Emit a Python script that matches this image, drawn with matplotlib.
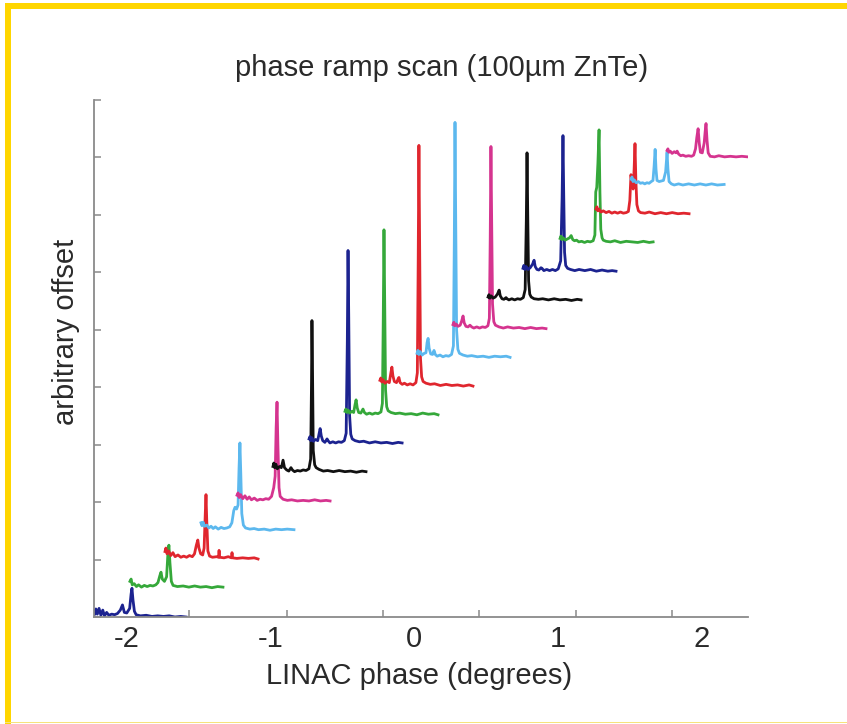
import numpy as np
import matplotlib
matplotlib.use("Agg")
import matplotlib.pyplot as plt
from matplotlib.patches import Rectangle

plt.rcParams['font.family'] = ['Liberation Sans', 'DejaVu Sans']

# ---------------- data ----------------
title = "phase ramp scan (100\u00b5m ZnTe)"
xlabel = "LINAC phase (degrees)"
ylabel = "arbitrary offset"

xtick_values = [-2, -1, 0, 1, 2]
xtick_labels = ["-2", "-1", "0", "1", "2"]
xtick_marks = [-1.565, -0.883, -0.216, 0.452, 1.127, 1.795]
ytick_marks = [0, 1, 2, 3, 4, 5, 6, 7, 8, 9]

trace_colors = ["#1c2390", "#35a83a", "#e0262e", "#5cb8ee", "#d5348f", "#111111",
                "#1c2390", "#35a83a", "#e0262e", "#5cb8ee", "#d5348f", "#111111",
                "#1c2390", "#35a83a", "#e0262e", "#5cb8ee", "#d5348f"]
trace_start = [-2.233, -1.976, -1.732, -1.482, -1.231, -0.981, -0.730, -0.480, -0.237,
               0.021, 0.271, 0.515, 0.758, 1.016, 1.266, 1.510, 1.760]
trace_offset = [0.0, 0.5, 1.0, 1.5, 2.0, 2.5, 3.0, 3.5, 4.0,
                4.5, 5.0, 5.5, 6.0, 6.5, 7.0, 7.5, 8.0]

trace_dx = [
    # 1 navy
    [0.000, 0.010, 0.020, 0.030, 0.042, 0.055, 0.068, 0.080, 0.095, 0.110, 0.130, 0.150, 0.170,
     0.190, 0.205, 0.218, 0.235, 0.255, 0.265, 0.271, 0.278, 0.288, 0.30, 0.33, 0.37, 0.41, 0.45,
     0.49, 0.53, 0.57, 0.61, 0.647],
    # 2 green
    [0.000, 0.008, 0.016, 0.030, 0.045, 0.060, 0.080, 0.100, 0.120, 0.140, 0.160, 0.180, 0.195,
     0.208, 0.216, 0.225, 0.240, 0.255, 0.264, 0.271, 0.278, 0.288, 0.30, 0.33, 0.37, 0.41, 0.45,
     0.49, 0.53, 0.57, 0.61, 0.647],
    # 3 red
    [0.000, 0.006, 0.014, 0.025, 0.040, 0.055, 0.070, 0.090, 0.110, 0.130, 0.150, 0.170, 0.190,
     0.205, 0.218, 0.228, 0.236, 0.248, 0.262, 0.272, 0.280, 0.285, 0.290, 0.298, 0.31, 0.33,
     0.36, 0.372, 0.376, 0.380, 0.41, 0.44, 0.462, 0.466, 0.47, 0.50, 0.54, 0.58, 0.62, 0.647],
    # 4 light blue
    [0.000, 0.007, 0.015, 0.025, 0.040, 0.055, 0.070, 0.085, 0.100, 0.120, 0.140, 0.160, 0.180,
     0.200, 0.215, 0.228, 0.237, 0.248, 0.258, 0.265, 0.271, 0.277, 0.284, 0.295, 0.31, 0.34,
     0.37, 0.40, 0.44, 0.48, 0.52, 0.56, 0.60, 0.647],
    # 5 magenta
    [0.000, 0.007, 0.015, 0.025, 0.040, 0.055, 0.070, 0.085, 0.100, 0.120, 0.140, 0.160, 0.180,
     0.200, 0.220, 0.240, 0.255, 0.265, 0.272, 0.278, 0.284, 0.292, 0.300, 0.32, 0.35, 0.38,
     0.42, 0.46, 0.50, 0.54, 0.58, 0.62, 0.647],
    # 6 black
    [0.000, 0.006, 0.012, 0.020, 0.030, 0.045, 0.058, 0.070, 0.080, 0.095, 0.110, 0.125, 0.135,
     0.150, 0.170, 0.190, 0.210, 0.230, 0.250, 0.262, 0.268, 0.271, 0.275, 0.280, 0.290, 0.300,
     0.32, 0.35, 0.38, 0.42, 0.46, 0.50, 0.54, 0.58, 0.62, 0.647],
    # 7 navy
    [0.000, 0.006, 0.012, 0.020, 0.030, 0.045, 0.060, 0.072, 0.077, 0.085, 0.095, 0.110, 0.125,
     0.132, 0.145, 0.165, 0.185, 0.205, 0.225, 0.245, 0.258, 0.266, 0.271, 0.276, 0.282, 0.290,
     0.300, 0.32, 0.35, 0.38, 0.42, 0.46, 0.50, 0.54, 0.58, 0.62, 0.647],
    # 8 green
    [0.000, 0.006, 0.013, 0.022, 0.033, 0.047, 0.060, 0.070, 0.077, 0.085, 0.095, 0.110, 0.125,
     0.135, 0.150, 0.170, 0.190, 0.210, 0.230, 0.250, 0.260, 0.266, 0.271, 0.276, 0.282, 0.290,
     0.300, 0.32, 0.35, 0.38, 0.42, 0.46, 0.50, 0.54, 0.58, 0.62, 0.647],
    # 9 red
    [0.000, 0.006, 0.013, 0.022, 0.035, 0.050, 0.065, 0.076, 0.083, 0.090, 0.100, 0.115, 0.127,
     0.132, 0.140, 0.155, 0.170, 0.190, 0.210, 0.230, 0.250, 0.260, 0.266, 0.271, 0.276, 0.282,
     0.290, 0.300, 0.32, 0.35, 0.38, 0.42, 0.46, 0.50, 0.54, 0.58, 0.62, 0.647],
    # 10 light blue
    [0.000, 0.006, 0.013, 0.022, 0.035, 0.050, 0.062, 0.070, 0.077, 0.084, 0.095, 0.108, 0.118,
     0.127, 0.140, 0.160, 0.180, 0.200, 0.220, 0.240, 0.253, 0.259, 0.264, 0.269, 0.275, 0.284,
     0.295, 0.32, 0.35, 0.38, 0.42, 0.46, 0.50, 0.54, 0.58, 0.62, 0.647],
    # 11 magenta
    [0.000, 0.006, 0.013, 0.022, 0.035, 0.050, 0.060, 0.070, 0.078, 0.090, 0.105, 0.118, 0.130,
     0.145, 0.165, 0.185, 0.205, 0.225, 0.243, 0.253, 0.259, 0.264, 0.269, 0.275, 0.284, 0.295,
     0.32, 0.35, 0.38, 0.42, 0.46, 0.50, 0.54, 0.58, 0.62, 0.647],
    # 12 black
    [0.000, 0.006, 0.013, 0.022, 0.035, 0.050, 0.065, 0.077, 0.085, 0.097, 0.110, 0.125, 0.132,
     0.145, 0.165, 0.185, 0.205, 0.225, 0.245, 0.258, 0.266, 0.271, 0.276, 0.282, 0.290, 0.300,
     0.32, 0.35, 0.38, 0.42, 0.46, 0.50, 0.54, 0.58, 0.62, 0.647],
    # 13 navy
    [0.000, 0.006, 0.013, 0.022, 0.035, 0.050, 0.066, 0.077, 0.085, 0.097, 0.110, 0.125, 0.132,
     0.145, 0.165, 0.185, 0.205, 0.225, 0.245, 0.262, 0.272, 0.278, 0.283, 0.289, 0.297, 0.31,
     0.33, 0.36, 0.39, 0.43, 0.47, 0.51, 0.55, 0.59, 0.62, 0.647],
    # 14 green
    [0.000, 0.006, 0.013, 0.022, 0.035, 0.050, 0.065, 0.077, 0.088, 0.100, 0.115, 0.130, 0.150,
     0.170, 0.190, 0.210, 0.230, 0.242, 0.248, 0.255, 0.263, 0.271, 0.277, 0.283, 0.292, 0.300,
     0.32, 0.35, 0.38, 0.42, 0.46, 0.50, 0.54, 0.58, 0.62, 0.647],
    # 15 red
    [0.000, 0.006, 0.013, 0.022, 0.035, 0.050, 0.070, 0.090, 0.110, 0.130, 0.150, 0.170, 0.190,
     0.210, 0.225, 0.235, 0.243, 0.250, 0.258, 0.265, 0.271, 0.277, 0.284, 0.295, 0.31, 0.34,
     0.37, 0.41, 0.45, 0.49, 0.53, 0.57, 0.61, 0.647],
    # 16 light blue
    [0.000, 0.006, 0.013, 0.022, 0.035, 0.050, 0.065, 0.080, 0.095, 0.110, 0.125, 0.140, 0.152,
     0.160, 0.167, 0.173, 0.180, 0.195, 0.210, 0.225, 0.240, 0.246, 0.250, 0.256, 0.264, 0.280,
     0.30, 0.33, 0.36, 0.40, 0.44, 0.48, 0.52, 0.56, 0.60, 0.647],
    # 17 magenta
    [0.000, 0.006, 0.013, 0.022, 0.035, 0.050, 0.062, 0.070, 0.080, 0.095, 0.110, 0.130, 0.150,
     0.170, 0.185, 0.198, 0.207, 0.216, 0.224, 0.232, 0.245, 0.258, 0.265, 0.271, 0.278, 0.286,
     0.30, 0.33, 0.36, 0.40, 0.44, 0.48, 0.52, 0.56, 0.60, 0.647],
]

trace_h = [
    # 1 navy
    [0.10, 0.04, 0.14, 0.05, 0.15, 0.03, 0.12, 0.02, 0.08, 0.03, 0.05, 0.04, 0.06,
     0.12, 0.21, 0.08, 0.07, 0.15, 0.40, 0.50, 0.30, 0.10, 0.04, 0.02, 0.03, 0.01, 0.02,
     0.01, 0.02, 0.00, 0.01, 0.00],
    # 2 green
    [0.12, 0.16, 0.06, 0.08, 0.03, 0.06, 0.02, 0.05, 0.03, 0.05, 0.04, 0.06, 0.10,
     0.22, 0.28, 0.16, 0.12, 0.20, 0.60, 0.75, 0.45, 0.12, 0.05, 0.03, 0.04, 0.02, 0.04,
     0.02, 0.03, 0.01, 0.03, 0.02],
    # 3 red
    [0.14, 0.20, 0.10, 0.15, 0.07, 0.12, 0.05, 0.08, 0.04, 0.06, 0.04, 0.07, 0.05,
     0.10, 0.25, 0.34, 0.20, 0.10, 0.08, 0.20, 0.80, 1.13, 0.70, 0.15, 0.06, 0.04,
     0.05, 0.04, 0.16, 0.04, 0.03, 0.05, 0.03, 0.12, 0.03, 0.02, 0.03, 0.02, 0.03, 0.01],
    # 4 light blue
    [0.14, 0.09, 0.15, 0.08, 0.10, 0.05, 0.08, 0.04, 0.07, 0.03, 0.06, 0.04, 0.05,
     0.07, 0.14, 0.35, 0.41, 0.38, 0.45, 1.10, 1.53, 1.00, 0.30, 0.10, 0.05, 0.03,
     0.04, 0.02, 0.03, 0.01, 0.03, 0.02, 0.03, 0.02],
    # 5 magenta
    [0.12, 0.16, 0.08, 0.13, 0.06, 0.11, 0.05, 0.09, 0.04, 0.07, 0.03, 0.05, 0.04,
     0.06, 0.05, 0.10, 0.25, 0.45, 1.30, 1.74, 1.00, 0.25, 0.10, 0.05, 0.03, 0.04,
     0.02, 0.03, 0.02, 0.04, 0.02, 0.03, 0.02],
    # 6 black
    [0.12, 0.18, 0.10, 0.16, 0.08, 0.12, 0.10, 0.23, 0.10, 0.06, 0.04, 0.10, 0.06,
     0.03, 0.05, 0.04, 0.06, 0.05, 0.08, 0.25, 1.60, 2.66, 1.80, 0.40, 0.15, 0.10,
     0.07, 0.04, 0.05, 0.03, 0.05, 0.03, 0.04, 0.02, 0.04, 0.03],
    # 7 navy
    [0.10, 0.14, 0.07, 0.12, 0.06, 0.09, 0.07, 0.22, 0.28, 0.15, 0.07, 0.04, 0.10,
     0.07, 0.03, 0.05, 0.03, 0.05, 0.04, 0.07, 0.20, 1.80, 3.38, 2.20, 0.50, 0.18,
     0.10, 0.07, 0.05, 0.06, 0.03, 0.05, 0.03, 0.04, 0.02, 0.04, 0.03],
    # 8 green
    [0.08, 0.12, 0.06, 0.10, 0.05, 0.08, 0.06, 0.20, 0.28, 0.14, 0.06, 0.05, 0.12,
     0.06, 0.03, 0.05, 0.03, 0.05, 0.04, 0.07, 0.22, 1.70, 3.24, 2.00, 0.45, 0.16,
     0.09, 0.06, 0.04, 0.05, 0.03, 0.04, 0.02, 0.05, 0.03, 0.04, 0.02],
    # 9 red
    [0.12, 0.16, 0.09, 0.13, 0.07, 0.10, 0.08, 0.25, 0.35, 0.20, 0.10, 0.08, 0.15,
     0.17, 0.08, 0.05, 0.07, 0.04, 0.06, 0.04, 0.08, 0.25, 2.20, 4.21, 2.50, 0.50,
     0.18, 0.10, 0.07, 0.05, 0.06, 0.03, 0.05, 0.03, 0.04, 0.02, 0.04, 0.02],
    # 10 light blue
    [0.09, 0.14, 0.07, 0.12, 0.06, 0.09, 0.10, 0.28, 0.35, 0.18, 0.08, 0.07, 0.14,
     0.07, 0.04, 0.06, 0.03, 0.05, 0.04, 0.07, 0.22, 2.00, 4.11, 2.40, 0.50, 0.16,
     0.09, 0.06, 0.04, 0.05, 0.03, 0.04, 0.02, 0.04, 0.03, 0.04, 0.02],
    # 11 magenta
    [0.09, 0.13, 0.07, 0.10, 0.06, 0.08, 0.15, 0.24, 0.12, 0.06, 0.05, 0.08, 0.05,
     0.03, 0.05, 0.03, 0.05, 0.04, 0.07, 0.20, 1.60, 3.19, 1.90, 0.45, 0.14, 0.08,
     0.05, 0.03, 0.05, 0.03, 0.04, 0.02, 0.04, 0.02, 0.03, 0.02],
    # 12 black
    [0.07, 0.11, 0.05, 0.09, 0.05, 0.07, 0.12, 0.19, 0.09, 0.04, 0.03, 0.06, 0.04,
     0.02, 0.04, 0.02, 0.04, 0.03, 0.06, 0.20, 1.40, 2.58, 1.50, 0.35, 0.12, 0.07,
     0.04, 0.03, 0.04, 0.02, 0.04, 0.02, 0.03, 0.01, 0.03, 0.02],
    # 13 navy
    [0.07, 0.12, 0.05, 0.10, 0.05, 0.08, 0.14, 0.21, 0.10, 0.05, 0.04, 0.08, 0.07,
     0.03, 0.05, 0.03, 0.05, 0.03, 0.06, 0.20, 1.30, 2.38, 1.40, 0.35, 0.12, 0.07,
     0.05, 0.03, 0.05, 0.03, 0.05, 0.02, 0.04, 0.02, 0.03, 0.02],
    # 14 green
    [0.09, 0.13, 0.07, 0.10, 0.06, 0.08, 0.10, 0.14, 0.07, 0.05, 0.06, 0.03, 0.04,
     0.02, 0.04, 0.03, 0.05, 0.15, 0.90, 0.98, 1.40, 1.98, 0.90, 0.25, 0.10, 0.06,
     0.04, 0.03, 0.05, 0.02, 0.04, 0.03, 0.02, 0.04, 0.02, 0.03],
    # 15 red
    [0.10, 0.14, 0.07, 0.10, 0.05, 0.07, 0.04, 0.06, 0.03, 0.05, 0.03, 0.05, 0.03,
     0.04, 0.06, 0.25, 0.70, 0.55, 0.45, 0.80, 1.24, 0.60, 0.18, 0.07, 0.04, 0.03,
     0.05, 0.02, 0.04, 0.02, 0.04, 0.02, 0.03, 0.02],
    # 16 light blue
    [0.12, 0.16, 0.08, 0.11, 0.06, 0.08, 0.05, 0.06, 0.04, 0.06, 0.05, 0.08, 0.10,
     0.35, 0.64, 0.30, 0.10, 0.08, 0.09, 0.10, 0.25, 0.45, 0.59, 0.30, 0.08, 0.04,
     0.02, 0.04, 0.02, 0.04, 0.02, 0.04, 0.02, 0.04, 0.02, 0.03],
    # 17 magenta
    [0.12, 0.15, 0.09, 0.11, 0.07, 0.10, 0.08, 0.11, 0.06, 0.03, 0.04, 0.02, 0.03,
     0.02, 0.04, 0.15, 0.35, 0.50, 0.25, 0.09, 0.08, 0.25, 0.45, 0.59, 0.30, 0.08,
     0.02, 0.01, 0.03, 0.01, 0.02, 0.01, 0.02, 0.01, 0.02, 0.01],
]

# ---------------- figure ----------------
W, H = 847, 724
fig = plt.figure(figsize=(W / 100, H / 100), dpi=100)
fig.patch.set_facecolor("white")

# yellow frame (top and left bands, faint bottom line)
fig.add_artist(Rectangle((5 / W, 1 - 9 / H), 1 - 5 / W, 6 / H, transform=fig.transFigure,
                         facecolor="#ffd600", edgecolor="none"))
fig.add_artist(Rectangle((5 / W, 0), 6 / W, 1 - 3 / H, transform=fig.transFigure,
                         facecolor="#ffd600", edgecolor="none"))
fig.add_artist(Rectangle((5 / W, 1 / H), 1 - 5 / W, 1.5 / H, transform=fig.transFigure,
                         facecolor="#f7e27c", edgecolor="none"))

ax = fig.add_axes([94 / W, 1 - 617 / H, (748 - 94) / W, (617 - 100) / H])
ax.set_facecolor("none")

for i in range(len(trace_start)):
    xs = trace_start[i] + np.array(trace_dx[i])
    ys = trace_offset[i] + np.array(trace_h[i])
    ax.plot(xs, ys, color=trace_colors[i], lw=2.0, solid_joinstyle="round")

ax.set_xlim(-2.226, 2.323)
ax.set_ylim(0, 8.99)

for s in ["top", "right"]:
    ax.spines[s].set_visible(False)
for s in ["left", "bottom"]:
    ax.spines[s].set_color("#8a8a8a")
    ax.spines[s].set_linewidth(1.3)

ax.set_xticks(xtick_values)
ax.set_xticklabels(xtick_labels)
ax.set_xticks(xtick_marks, minor=True)
ax.tick_params(axis="x", which="major", length=0, pad=6, labelsize=21, labelcolor="#2a2a2a")
ax.tick_params(axis="x", which="minor", direction="in", length=5, width=1.1, color="#8a8a8a")
ax.set_yticks(ytick_marks)
ax.set_yticklabels([])
ax.tick_params(axis="y", which="major", direction="in", length=5, width=1.1, color="#8a8a8a")

fig.text(442 / W, 1 - 68 / H, title, ha="center", va="center", fontsize=21, color="#2a2a2a")
fig.text(419 / W, 1 - 676 / H, xlabel, ha="center", va="center", fontsize=21, color="#2a2a2a")
fig.text(66 / W, 1 - 332 / H, ylabel, ha="center", va="center", rotation=90,
         fontsize=21, color="#2a2a2a")

fig.savefig("out.png", dpi=100, facecolor="white")
